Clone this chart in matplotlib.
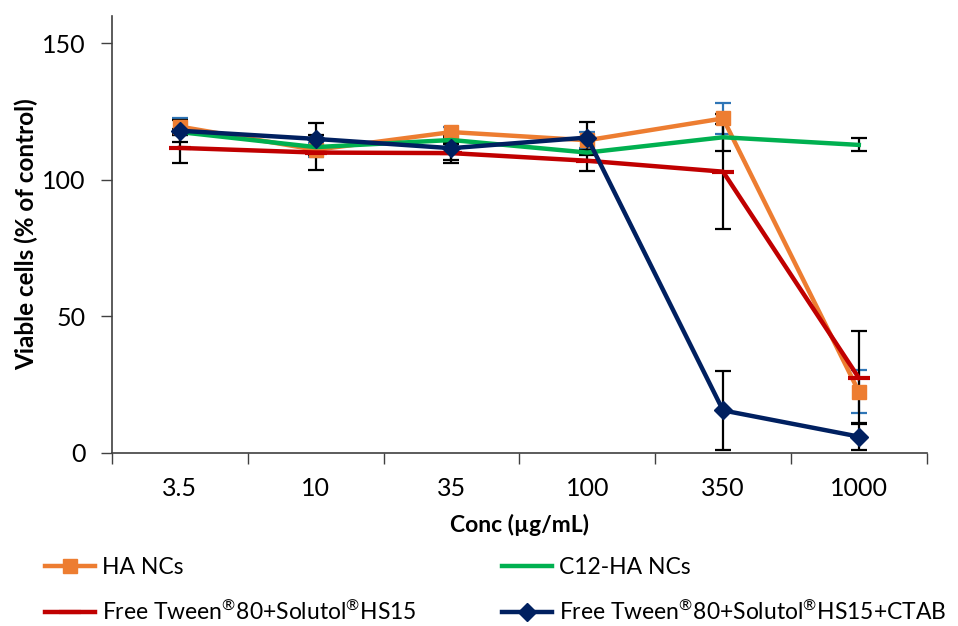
import matplotlib.pyplot as plt
import numpy as np

plt.rcParams['font.family'] = ['Lato', 'DejaVu Sans']
plt.rcParams['mathtext.fontset'] = 'custom'
plt.rcParams['mathtext.rm'] = 'Lato'
plt.rcParams['mathtext.it'] = 'Lato:italic'
plt.rcParams['mathtext.bf'] = 'Lato:bold'

conc = ['3.5', '10', '35', '100', '350', '1000']

ha = [119.5, 111, 117.5, 114.5, 122.5, 22.5]
ha_err = [3, 2.5, 2, 3, 5.6, 8]
c12 = [117.5, 112, 114.6, 110, 115.6, 112.8]
c12_err = [1, 0.5, 1, 1, 5, 2.4]
tween = [111.7, 110, 109.8, 107, 103, 27.5]
tween_err = [5.4, 6.5, 3.5, 3.7, 21, 17]
ctab = [118, 115, 111.6, 115.5, 15.6, 6]
ctab_err = [4, 6, 4.5, 5.6, 14.4, 5]

reg = r'$^{\mathrm{®}}$'
names = ['HA NCs', 'C12-HA NCs',
         'Free Tween' + reg + '80+Solutol' + reg + 'HS15',
         'Free Tween' + reg + '80+Solutol' + reg + 'HS15+CTAB']

fig = plt.figure(figsize=(9.58, 6.26), dpi=100)
ax = fig.add_axes([112/958, 1-453/626, (926.7-112)/958, (453-16)/626])

x = np.arange(len(conc))
ekw = dict(fmt='none', capsize=6, elinewidth=1.6, capthick=1.6, zorder=1)
ax.errorbar(x, ha, yerr=ha_err, ecolor='#2E75B6', **ekw)
ax.errorbar(x, c12, yerr=c12_err, ecolor='black', **ekw)
ax.errorbar(x, tween, yerr=tween_err, ecolor='black', **ekw)
ax.errorbar(x, ctab, yerr=ctab_err, ecolor='black', **ekw)

l1, = ax.plot(x, ha, color='#ED7D31', lw=3.2, marker='s', ms=10, label=names[0], zorder=2)
l2, = ax.plot(x, c12, color='#00B050', lw=3.2, label=names[1], zorder=3)
l3, = ax.plot(x, tween, color='#C00000', lw=3.2, marker='_', ms=16, mew=3,
              label=names[2], zorder=4)
l4, = ax.plot(x, ctab, color='#002060', lw=3.2, marker='D', ms=9,
              label=names[3], zorder=5)

ax.set_xlim(-0.5, 5.5)
ax.set_ylim(0, 160)
ax.set_yticks([0, 50, 100, 150])
ax.set_xticks(x)
ax.set_xticklabels(conc)
ax.set_xticks(np.arange(-0.5, 6, 1), minor=True)
ax.tick_params(axis='x', which='major', length=0, pad=17, labelsize=18)
ax.tick_params(axis='x', which='minor', length=8, width=1, color='#404040')
ax.tick_params(axis='y', length=8, width=1, color='#404040', pad=11, labelsize=18)
for s in ['top', 'right']:
    ax.spines[s].set_visible(False)
for s in ['left', 'bottom']:
    ax.spines[s].set_color('#404040')
    ax.spines[s].set_linewidth(1.2)

ax.set_xlabel('Conc (µg/mL)', fontsize=16.5, fontweight='bold', labelpad=10)
ax.set_ylabel('Viable cells (% of control)', fontsize=17.5, fontweight='bold', labelpad=3)

fig.legend([l1, l3, l2, l4], [names[0], names[2], names[1], names[3]],
           ncol=2, loc='upper left', bbox_to_anchor=(45/958, 1-557/626), frameon=False,
           fontsize=16.5, handlelength=2.2, handletextpad=0.3, columnspacing=3.7,
           labelspacing=0.95, borderpad=0, borderaxespad=0)

fig.savefig('out.png', dpi=100)
